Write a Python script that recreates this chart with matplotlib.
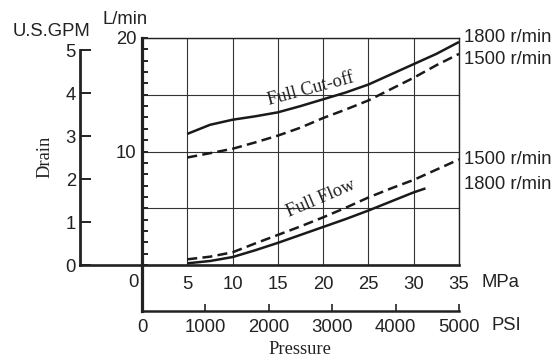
import matplotlib
matplotlib.use('Agg')
import matplotlib.pyplot as plt
import numpy as np

# pressure (MPa) where curves were read
pressure = [5, 7.5, 10, 12.5, 15, 17.5, 20, 22.5, 25, 27.5, 30, 32.5, 35]
cutoff_1800 = [11.55, 12.35, 12.8, 13.1, 13.45, 14.0, 14.6, 15.2, 15.9, 16.8, 17.7, 18.6, 19.65]
cutoff_1500 = [9.47, 9.85, 10.24, 10.8, 11.4, 12.1, 12.95, 13.7, 14.5, 15.5, 16.5, 17.6, 18.6]
flow_1500 = [0.5, 0.73, 1.12, 1.9, 2.65, 3.4, 4.2, 5.05, 5.95, 6.75, 7.5, 8.4, 9.3]
pressure_1800 = [5, 7.5, 10, 12.5, 15, 17.5, 20, 22.5, 25, 27.5, 30, 31.3]
flow_1800 = [0.15, 0.35, 0.7, 1.3, 1.95, 2.65, 3.35, 4.05, 4.8, 5.6, 6.4, 6.75]

mpa_ticks = [5, 10, 15, 20, 25, 30, 35]
psi_ticks = [0, 1000, 2000, 3000, 4000, 5000]
lpm_ticks = [0, 5, 10, 15, 20]
lpm_labels = ['', '', '10', '', '20']
gpm_ticks = [0, 1, 2, 3, 4, 5]
LPM_PER_GPM = 3.785

SANS = 'Liberation Sans'
SERIF = 'Liberation Serif'
FS = 13.3

W, H = 560, 360
fig = plt.figure(figsize=(5.6, 3.6), dpi=100)


def box(x0, y0, x1, y1):
    # pixel box (top-left origin) -> figure fraction rect
    return [x0 / W, 1 - y1 / H, (x1 - x0) / W, (y1 - y0) / H]


def ftext(x, y, s, **kw):
    fig.text(x / W, 1 - y / H, s, **kw)


# main plot
ax = fig.add_axes(box(142, 38, 459, 265))
ax.set_xlim(0, 35)
ax.set_ylim(0, 20)
ax.patch.set_alpha(0)

ax.plot(pressure, cutoff_1800, color='#1a1a1a', lw=1.8, solid_capstyle='butt')
ax.plot(pressure, cutoff_1500, color='#1a1a1a', lw=1.8, ls=(0, (4.0, 2.1)))
ax.plot(pressure_1800, flow_1800, color='#1a1a1a', lw=1.8, solid_capstyle='butt')
ax.plot(pressure, flow_1500, color='#1a1a1a', lw=1.8, ls=(0, (4.0, 2.1)))

ax.set_xticks(mpa_ticks)
ax.set_xticklabels([str(t) for t in mpa_ticks], fontsize=FS, family=SANS, color='#222')
ax.set_yticks(lpm_ticks)
ax.set_yticklabels(lpm_labels, fontsize=FS, family=SANS, color='#222')
ax.set_yticks(np.arange(0, 21, 1), minor=True)
ax.tick_params(axis='x', length=0, pad=8)
ax.tick_params(axis='y', which='both', direction='in', length=4.5, width=1.4,
               pad=4, color='#222')
ax.grid(True, which='major', color='#333333', lw=0.8)

for side, lw in [('left', 2.3), ('bottom', 1.9), ('top', 1.0), ('right', 1.0)]:
    ax.spines[side].set_linewidth(lw)
    ax.spines[side].set_color('#222')

ax.text(-1.0, -0.075, '0', transform=ax.get_xaxis_transform(), ha='center',
        va='center', fontsize=FS, family=SANS, color='#222')
ax.text(1.13, -0.075, 'MPa', transform=ax.transAxes, ha='center',
        va='center', fontsize=FS, family=SANS, color='#222')

ax.text(18.6, 15.5, 'Full Cut-off', rotation=15, ha='center', va='center',
        fontsize=FS, family=SERIF, color='#222', rotation_mode='anchor')
ax.text(19.8, 5.85, 'Full Flow', rotation=23, ha='center', va='center',
        fontsize=FS, family=SERIF, color='#222', rotation_mode='anchor')

# U.S.GPM scale
axg = fig.add_axes(box(80, 38, 142, 265))
axg.set_ylim(0, 20 / LPM_PER_GPM)
axg.set_xlim(0, 1)
axg.patch.set_alpha(0)
axg.set_xticks([])
axg.set_yticks(gpm_ticks)
axg.set_yticklabels([str(t) for t in gpm_ticks], fontsize=FS, family=SANS, color='#222')
axg.tick_params(axis='y', direction='in', length=8, width=1.4, pad=3, color='#222')
for side in ['top', 'right']:
    axg.spines[side].set_visible(False)
axg.spines['left'].set_bounds(0, 5)
axg.spines['left'].set_linewidth(2.0)
axg.spines['bottom'].set_linewidth(1.9)
for side in ['left', 'bottom']:
    axg.spines[side].set_color('#222')

# PSI scale
axp = fig.add_axes(box(142, 265, 459, 311))
axp.set_xlim(0, 5000)
axp.set_ylim(0, 1)
axp.patch.set_alpha(0)
axp.set_yticks([])
axp.set_xticks(psi_ticks)
axp.set_xticklabels([str(t) for t in psi_ticks], fontsize=FS, family=SANS, color='#222')
axp.tick_params(axis='x', direction='in', length=5, width=1.2, pad=6, color='#222')
for side in ['top', 'right']:
    axp.spines[side].set_visible(False)
axp.spines['left'].set_linewidth(2.3)
axp.spines['bottom'].set_linewidth(1.8)
for side in ['left', 'bottom']:
    axp.spines[side].set_color('#222')

# labels around
ftext(52, 31, 'U.S.GPM', ha='center', va='center', fontsize=FS, family=SANS, color='#222')
ftext(125, 19, 'L/min', ha='center', va='center', fontsize=FS, family=SANS, color='#222')
ftext(45, 157, 'Drain', ha='center', va='center', rotation=90, fontsize=FS,
      family=SERIF, color='#222')
ftext(506, 325, 'PSI', ha='center', va='center', fontsize=FS, family=SANS, color='#222')
ftext(300, 349, 'Pressure', ha='center', va='center', fontsize=FS, family=SERIF, color='#222')

ftext(464, 37, '1800 r/min', ha='left', va='center', fontsize=FS, family=SANS, color='#222')
ftext(464, 60, '1500 r/min', ha='left', va='center', fontsize=FS, family=SANS, color='#222')
ftext(464, 160, '1500 r/min', ha='left', va='center', fontsize=FS, family=SANS, color='#222')
ftext(464, 185, '1800 r/min', ha='left', va='center', fontsize=FS, family=SANS, color='#222')

fig.savefig('out.png', dpi=100)
